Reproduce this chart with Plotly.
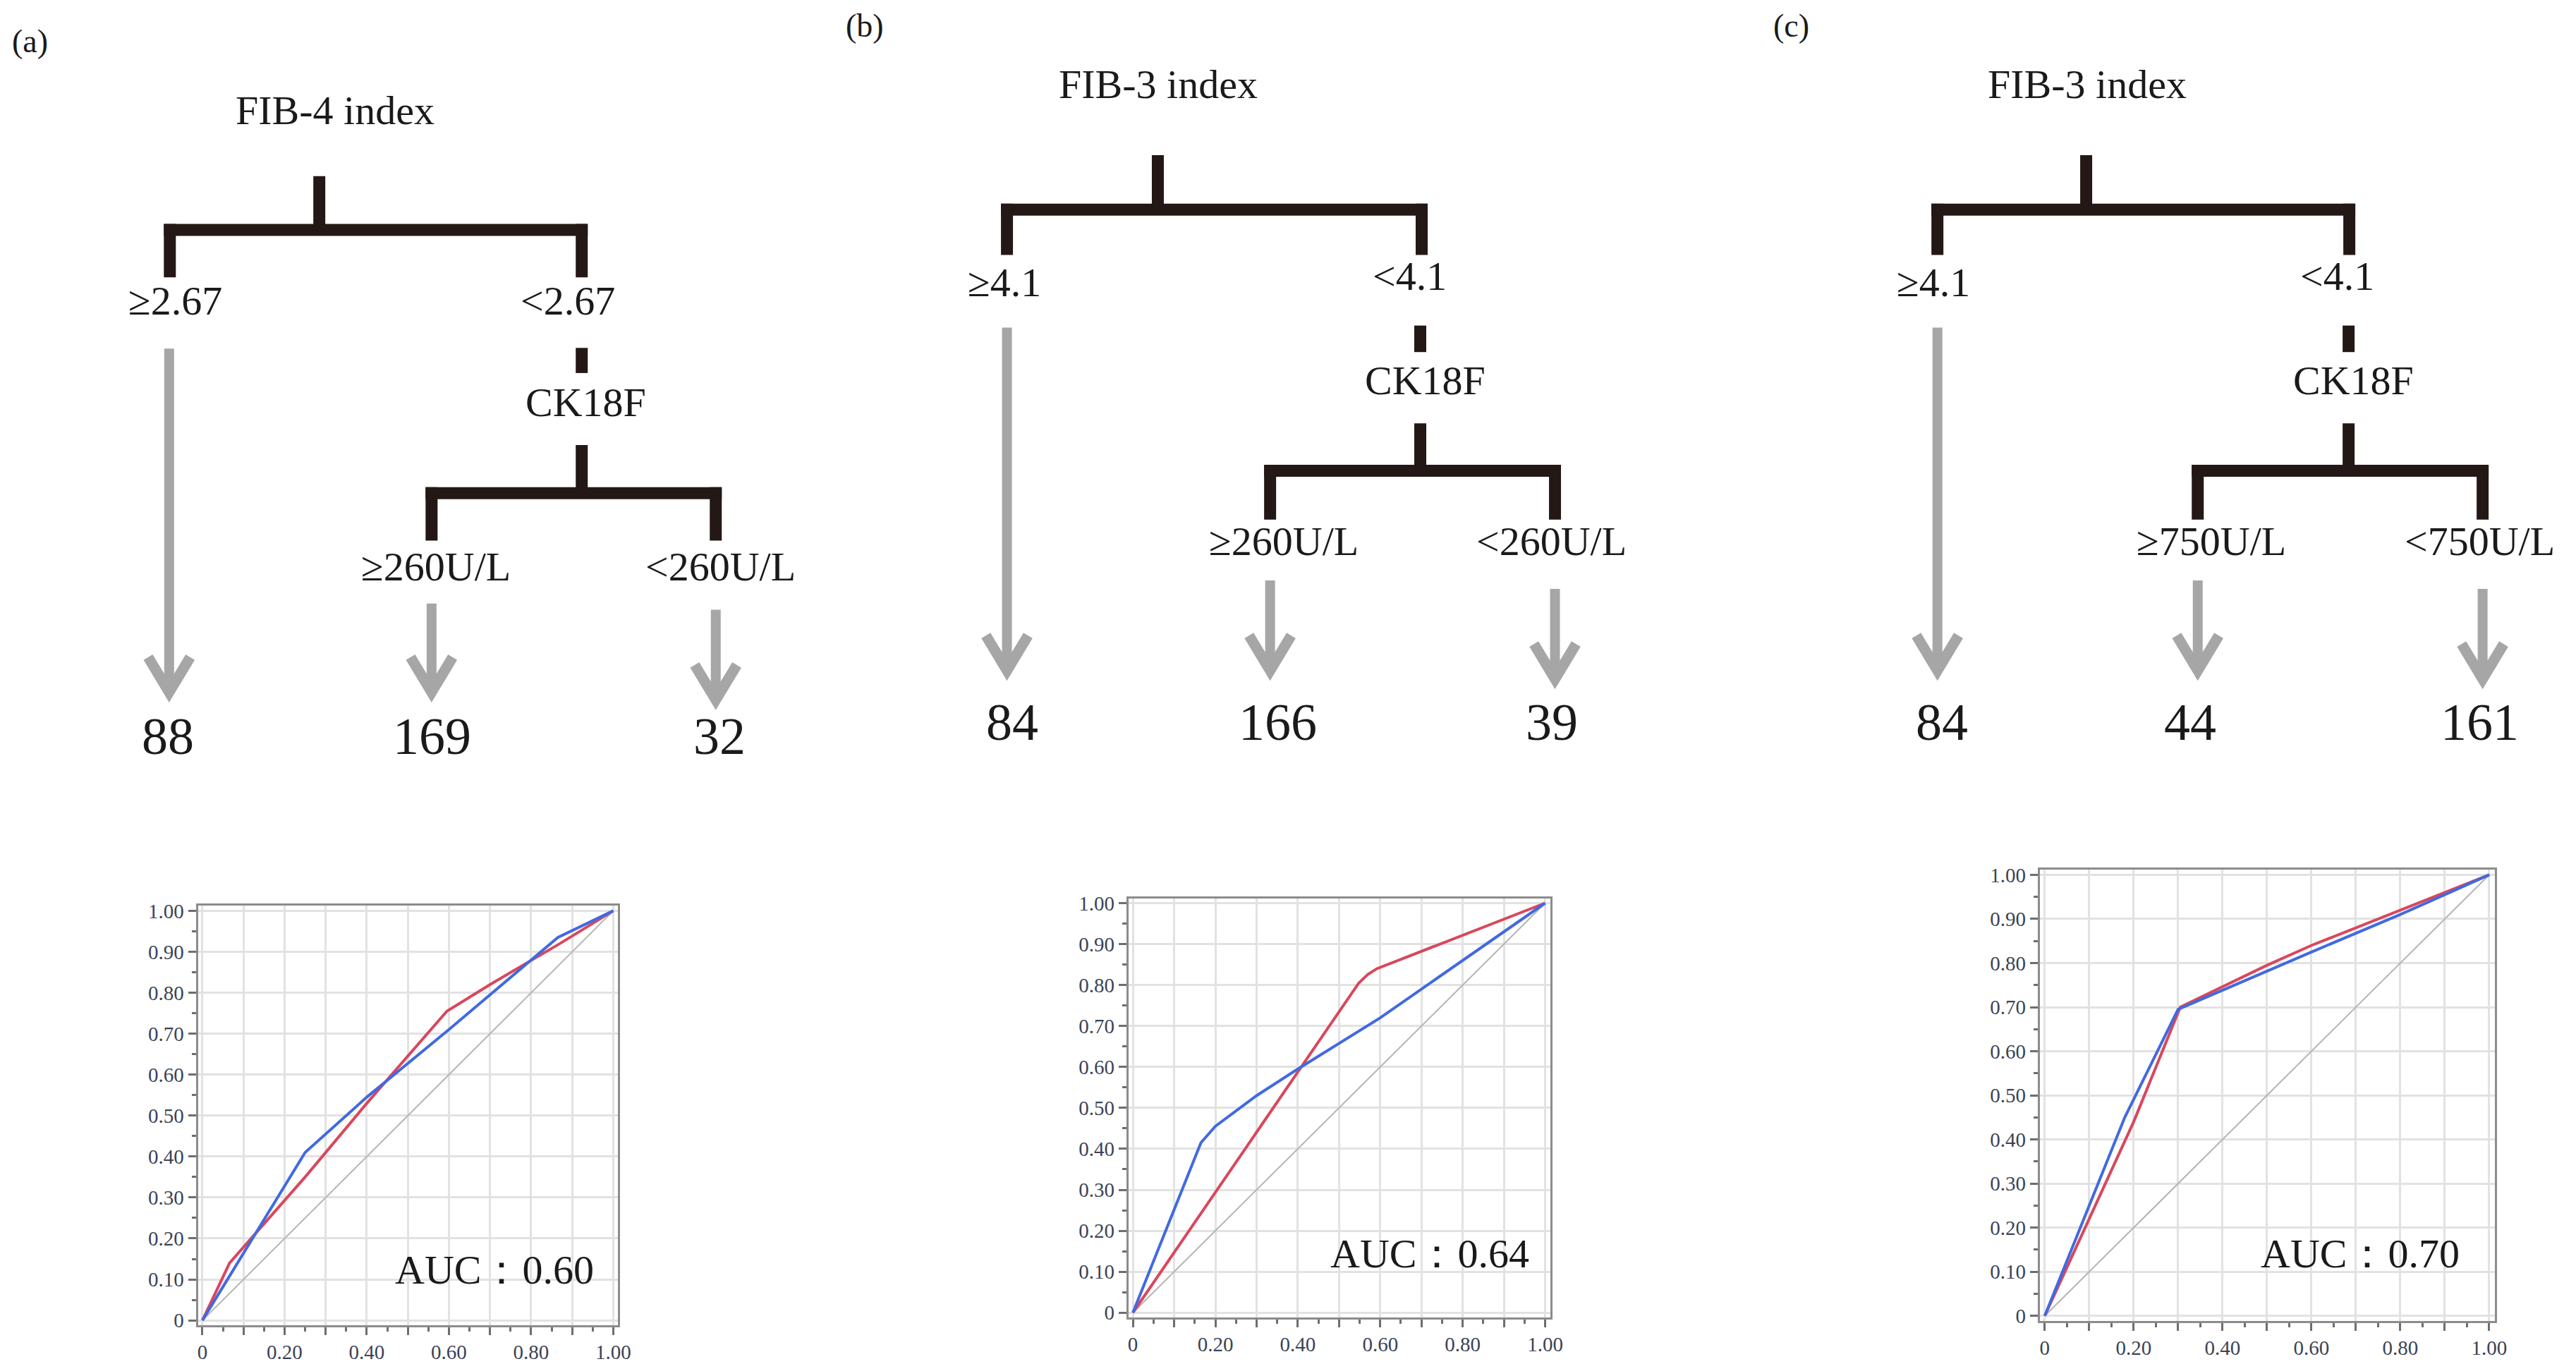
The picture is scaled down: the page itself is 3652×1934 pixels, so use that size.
import plotly.graph_objects as go

# ---------------- data ----------------
panel_tags = ["(a)", "(b)", "(c)"]
root_labels = ["FIB-4 index", "FIB-3 index", "FIB-3 index"]
split1_labels = [["≥2.67", "<2.67"], ["≥4.1", "<4.1"], ["≥4.1", "<4.1"]]
node2_label = "CK18F"
split2_labels = [["≥260U/L", "<260U/L"], ["≥260U/L", "<260U/L"], ["≥750U/L", "<750U/L"]]
leaf_counts = [[88, 169, 32], [84, 166, 39], [84, 44, 161]]
auc_values = [0.60, 0.64, 0.70]

red_a_x = [0, 0.066, 0.25, 0.40, 0.595, 0.70, 0.87, 1.0]
red_a_y = [0, 0.14, 0.35, 0.53, 0.755, 0.82, 0.92, 1.0]
blue_a_x = [0, 0.25, 0.40, 0.60, 0.865, 1.0]
blue_a_y = [0, 0.41, 0.545, 0.71, 0.935, 1.0]

red_b_x = [0, 0.548, 0.57, 0.592, 1.0]
red_b_y = [0, 0.805, 0.826, 0.84, 1.0]
blue_b_x = [0, 0.165, 0.20, 0.30, 0.40, 0.60, 1.0]
blue_b_y = [0, 0.415, 0.455, 0.53, 0.595, 0.72, 1.0]

red_c_x = [0, 0.20, 0.305, 0.50, 0.60, 0.80, 1.0]
red_c_y = [0, 0.44, 0.70, 0.795, 0.84, 0.92, 1.0]
blue_c_x = [0, 0.18, 0.30, 0.50, 0.60, 0.80, 1.0]
blue_c_y = [0, 0.45, 0.695, 0.782, 0.825, 0.91, 1.0]

ref_x = [0, 1]
ref_y = [0, 1]

roc_red = [(red_a_x, red_a_y), (red_b_x, red_b_y), (red_c_x, red_c_y)]
roc_blue = [(blue_a_x, blue_a_y), (blue_b_x, blue_b_y), (blue_c_x, blue_c_y)]

tick_vals = [i / 10 for i in range(11)]
y_tick_text = ["0", "0.10", "0.20", "0.30", "0.40", "0.50", "0.60", "0.70", "0.80", "0.90", "1.00"]
x_tick_text = ["0", "", "0.20", "", "0.40", "", "0.60", "", "0.80", "", "1.00"]

# ---------------- layout geometry (pixels of the 3652x1934 page) ----------------
W, H = 3652, 1934
GEOM = [
    dict(tag=(34, 59), root=(468, 154), stem=(446, 235), bar1=(312, 233, 820), drop1=380,
         lab1=((241, 426), (800, 426)), arrow0=(232, 482, 988), dash=(820, 481, 517), ck=(826, 571),
         stem2=(820, 620), bar2=(689, 606, 1011), drop2=757, lab2=((612, 806), (1018, 806)),
         arrows=((606, 847, 988), (1011, 856, 999)), nums=((230, 1044), (607, 1044), (1016, 1044))),
    dict(tag=(1223, 37), root=(1642, 117), stem=(1641, 205), bar1=(283, 1426, 2017), drop1=348,
         lab1=((1422, 399), (2000, 390)), arrow0=(1426, 452, 957), dash=(2015, 449, 487), ck=(2022, 540),
         stem2=(2015, 589), bar2=(657, 1801, 2207), drop2=727, lab2=((1820, 770), (2202, 770)),
         arrows=((1801, 814, 957), (2207, 826, 969)), nums=((1433, 1024), (1812, 1024), (2202, 1024))),
    dict(tag=(2544, 37), root=(2965, 117), stem=(2964, 205), bar1=(283, 2752, 3339), drop1=348,
         lab1=((2746, 399), (3322, 390)), arrow0=(2752, 452, 957), dash=(3338, 449, 487), ck=(3345, 540),
         stem2=(3338, 589), bar2=(657, 3123, 3529), drop2=727, lab2=((3142, 770), (3525, 770)),
         arrows=((3123, 814, 957), (3529, 826, 969)), nums=((2758, 1024), (3112, 1024), (3525, 1024))),
]
# ROC plot boxes: (left, right, top, bottom) in pixels
ROC_BOX = [(273, 872, 1280, 1880), (1599, 2200, 1269, 1869), (2898, 3546, 1228, 1874)]
AUC_POS = [(0.711, 0.123), (0.721, 0.145), (0.71, 0.141)]

TREE = "#231815"
GRAY = "#a6a6a6"
RED = "#d9475c"
BLUE = "#4169e1"
SERIF = "Liberation Serif"


def px(x):
    return x / W


def py(y):
    return 1 - y / H


fig = go.Figure()
shapes = []
annotations = []
LW = 17


def line(x0, y0, x1, y1, color=TREE, width=LW):
    shapes.append(dict(type="line", xref="paper", yref="paper", x0=px(x0), y0=py(y0),
                       x1=px(x1), y1=py(y1), line=dict(color=color, width=width)))


def arrow(x, top, tip):
    vy = tip - 14
    line(x, top, x, vy + 2, GRAY, 14)
    shapes.append(dict(type="path", xref="paper", yref="paper",
                       path=f"M {px(x-30)},{py(vy-50)} L {px(x)},{py(vy)} L {px(x+30)},{py(vy-50)}",
                       line=dict(color=GRAY, width=15)))


def text(x, y, s, size, dy, color="#1a1a1a"):
    annotations.append(dict(xref="paper", yref="paper", x=px(x), y=py(y - dy), text=s, showarrow=False,
                            xanchor="center", yanchor="middle",
                            font=dict(family=SERIF, size=size, color=color)))


for i, g in enumerate(GEOM):
    text(*g["tag"], panel_tags[i], 46, 17)
    text(*g["root"], root_labels[i], 58, 13)
    sx, sy = g["stem"]
    by, L, R = g["bar1"]
    line(sx, sy, sx, by)
    line(L - LW / 2, by, R + LW / 2, by)
    line(L, by - LW / 2, L, g["drop1"])
    line(R, by - LW / 2, R, g["drop1"])
    text(*g["lab1"][0], split1_labels[i][0], 58, 12)
    text(*g["lab1"][1], split1_labels[i][1], 58, 12)
    ax, at, atip = g["arrow0"]
    arrow(ax, at, atip)
    dx, d0, d1 = g["dash"]
    line(dx, d0, dx, d1)
    text(*g["ck"], node2_label, 58, 12)
    s2x, s2y = g["stem2"]
    b2y, L2, R2 = g["bar2"]
    line(s2x, s2y, s2x, b2y)
    line(L2 - LW / 2, b2y, R2 + LW / 2, b2y)
    line(L2, b2y - LW / 2, L2, g["drop2"])
    line(R2, b2y - LW / 2, R2, g["drop2"])
    text(*g["lab2"][0], split2_labels[i][0], 58, 12)
    text(*g["lab2"][1], split2_labels[i][1], 58, 12)
    for (x, t0, t1) in g["arrows"]:
        arrow(x, t0, t1)
    for (pos, n) in zip(g["nums"], leaf_counts[i]):
        text(*pos, str(n), 74, 7)

# ---------------- ROC panels ----------------
for i in range(3):
    xa = "x" if i == 0 else f"x{i+1}"
    ya = "y" if i == 0 else f"y{i+1}"
    l, r, t, b = ROC_BOX[i]
    common = dict(range=[-0.011, 1.012], showline=True, linecolor="#8c8c8c", linewidth=3, mirror=True,
                  showgrid=True, gridcolor="#e2e2e2", gridwidth=2.5, zeroline=False,
                  ticks="outside", ticklen=11, tickwidth=2.5, tickcolor="#6e6e6e",
                  tickmode="array", tickvals=tick_vals, fixedrange=True,
                  tickfont=dict(family=SERIF, size=29, color="#3a4356"),
                  minor=dict(tickmode="linear", tick0=0, dtick=0.05, ticks="outside", ticklen=6,
                             tickwidth=2.5, tickcolor="#6e6e6e", showgrid=False))
    xkey = "xaxis" if i == 0 else f"xaxis{i+1}"
    ykey = "yaxis" if i == 0 else f"yaxis{i+1}"
    fig.update_layout({
        xkey: dict(domain=[l / W, r / W], anchor=ya, ticktext=x_tick_text, **common),
        ykey: dict(domain=[1 - b / H, 1 - t / H], anchor=xa, ticktext=y_tick_text, **common),
    })
    fig.add_trace(go.Scatter(x=ref_x, y=ref_y, xaxis=xa, yaxis=ya, mode="lines",
                             line=dict(color="#b4b4b4", width=2), showlegend=False, hoverinfo="skip"))
    fig.add_trace(go.Scatter(x=roc_red[i][0], y=roc_red[i][1], xaxis=xa, yaxis=ya, mode="lines",
                             line=dict(color=RED, width=4), showlegend=False))
    fig.add_trace(go.Scatter(x=roc_blue[i][0], y=roc_blue[i][1], xaxis=xa, yaxis=ya, mode="lines",
                             line=dict(color=BLUE, width=4), showlegend=False))
    annotations.append(dict(xref=xa, yref=ya, x=AUC_POS[i][0], y=AUC_POS[i][1],
                            text=f"AUC：{auc_values[i]:.2f}", showarrow=False,
                            xanchor="center", yanchor="middle",
                            font=dict(family=SERIF, size=58, color="#1a1a1a")))

fig.update_layout(width=W, height=H, margin=dict(l=0, r=0, t=0, b=0),
                  paper_bgcolor="white", plot_bgcolor="white", showlegend=False,
                  shapes=shapes, annotations=annotations)

fig.write_html("out.html")
